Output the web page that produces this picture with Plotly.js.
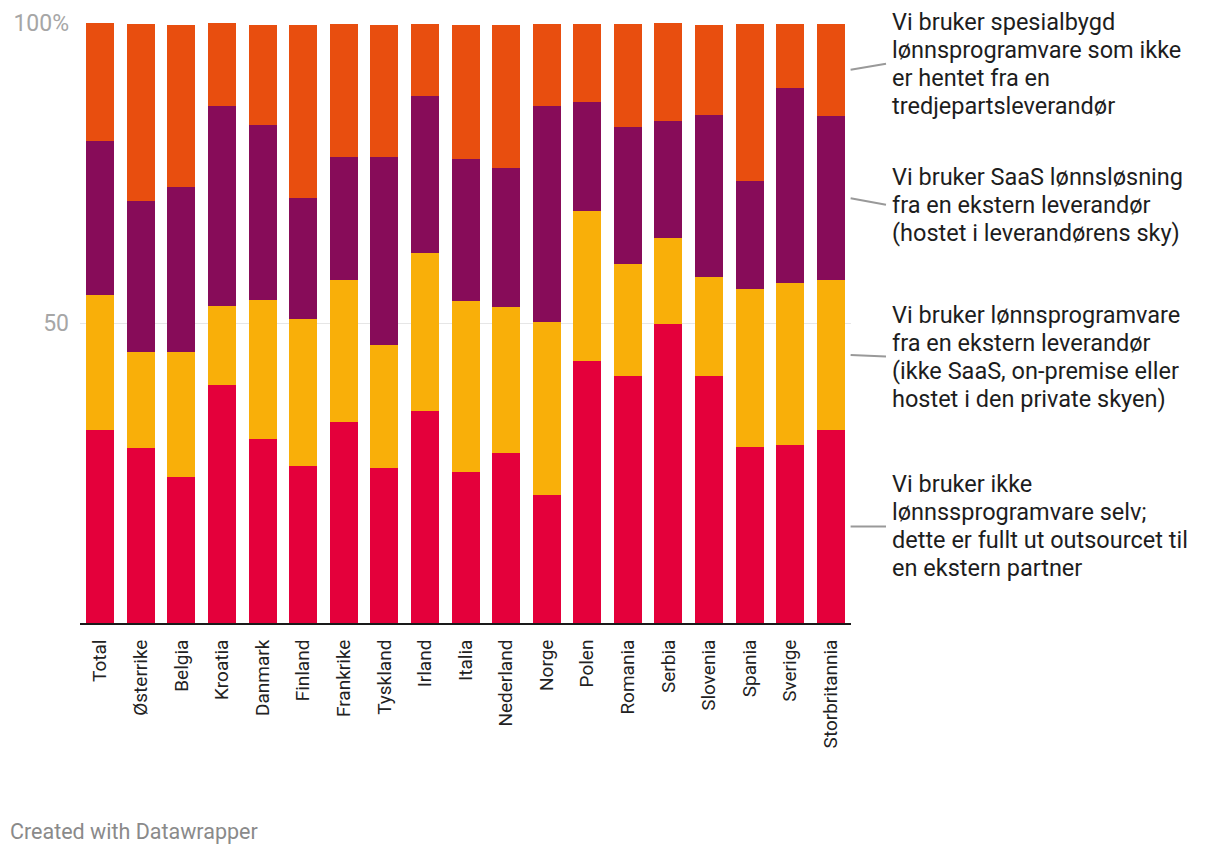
<!DOCTYPE html>
<html>
<head>
<meta charset="utf-8">
<script src="https://cdn.plot.ly/plotly-3.0.1.min.js"></script>
<style>
  html, body { margin: 0; padding: 0; background: #fff; }
  #chart { width: 1220px; height: 858px; }
</style>
</head>
<body>
<div id="chart"></div>
<script>
const categories = ["Total","Østerrike","Belgia","Kroatia","Danmark","Finland","Frankrike","Tyskland","Irland","Italia","Nederland","Norge","Polen","Romania","Serbia","Slovenia","Spania","Sverige","Storbritannia"];

const outsourced = [32.2,29.2,24.4,39.6,30.7,26.2,33.5,25.9,35.4,25.2,28.4,21.4,43.6,41.1,49.9,41.1,29.4,29.6,32.2];
const onPremise  = [22.5,16.0,20.8,13.3,23.2,24.4,23.6,20.5,26.2,28.4,24.2,28.8,25.0,18.8,14.2,16.5,26.2,27.1,24.9];
const saas       = [25.7,25.1,27.5,33.3,29.1,20.3,20.5,31.2,26.3,23.8,23.3,36.0,18.3,22.8,19.6,27.1,18.0,32.5,27.4];
const custom     = [19.6,29.5,27.0,13.8,16.7,28.8,22.3,22.1,12.0,22.3,23.8,13.7,13.0,17.2,16.3,15.0,26.3,10.7,15.4];

const seriesNames = [
  "Vi bruker ikke<br>lønnssprogramvare selv;<br>dette er fullt ut outsourcet til<br>en ekstern partner",
  "Vi bruker lønnsprogramvare<br>fra en ekstern leverandør<br>(ikke SaaS, on-premise eller<br>hostet i den private skyen)",
  "Vi bruker SaaS lønnsløsning<br>fra en ekstern leverandør<br>(hostet i leverandørens sky)",
  "Vi bruker spesialbygd<br>lønnsprogramvare som ikke<br>er hentet fra en<br>tredjepartsleverandør"
];
const seriesValues = [outsourced, onPremise, saas, custom];
const seriesColors = ["#e4003b", "#f9af09", "#870c59", "#e84e0f"];
const labelY = [16.1, 44.4, 69.7, 93.2];

const tickVals = [50, 100];
const tickText = ["50", "100%"];

const traces = seriesValues.map((vals, i) => ({
  type: "bar",
  x: categories,
  y: vals,
  name: seriesNames[i].replace(/<br>/g, " "),
  marker: { color: seriesColors[i], line: { width: 0 } },
  hoverinfo: "x+y"
}));

const annotations = [];
const shapes = [];
const lastIdx = categories.length - 1;
const lineStep = 28 / 600; // paper units per text line (plot height 600 px)
let cum = 0;
seriesValues.forEach((vals, i) => {
  const mid = cum + vals[lastIdx] / 2;
  cum += vals[lastIdx];
  const lines = seriesNames[i].split("<br>");
  const n = lines.length;
  lines.forEach((ln, k) => {
    annotations.push({
      xref: "paper", yref: "paper",
      x: 1.0506, y: labelY[i] / 100 + ((n - 1) / 2 - k) * lineStep,
      xanchor: "left", yanchor: "middle", align: "left",
      text: ln,
      showarrow: false,
      font: { family: "Roboto, sans-serif", size: 23.5, color: "#1d1d1d" }
    });
  });
  shapes.push({
    type: "line", xref: "paper", yref: "y",
    x0: 0.9995, x1: 1.0454, y0: mid, y1: labelY[i],
    line: { color: "#999999", width: 2 }
  });
});

annotations.push({
  xref: "paper", yref: "paper",
  x: -0.0934, y: -0.348,
  xanchor: "left", yanchor: "middle",
  text: "Created with Datawrapper",
  showarrow: false,
  font: { family: "Roboto, sans-serif", size: 21.5, color: "#8a8a8a" }
});

const layout = {
  width: 1220, height: 858,
  margin: { l: 80, r: 369, t: 23, b: 235 },
  paper_bgcolor: "#ffffff",
  plot_bgcolor: "#ffffff",
  barmode: "stack",
  bargap: 0.31,
  showlegend: false,
  font: { family: "Roboto, sans-serif" },
  xaxis: {
    type: "category",
    tickangle: -90,
    ticks: "",
    showgrid: false,
    showline: true,
    linecolor: "#1a1a1a",
    linewidth: 2,
    tickfont: { family: "Roboto, sans-serif", size: 19, color: "#222222" },
    ticklabelstandoff: 7,
    fixedrange: true
  },
  yaxis: {
    range: [0, 100],
    tickvals: tickVals,
    ticktext: tickText,
    showgrid: true,
    gridcolor: "#e6e6e6",
    gridwidth: 1,
    zeroline: false,
    showline: false,
    ticks: "",
    ticklabelstandoff: 10,
    tickfont: { family: "Roboto, sans-serif", size: 23, color: "#a6a6a6" },
    fixedrange: true
  },
  annotations: annotations,
  shapes: shapes
};

Plotly.newPlot("chart", traces, layout, { displayModeBar: false, staticPlot: true });
</script>
</body>
</html>
